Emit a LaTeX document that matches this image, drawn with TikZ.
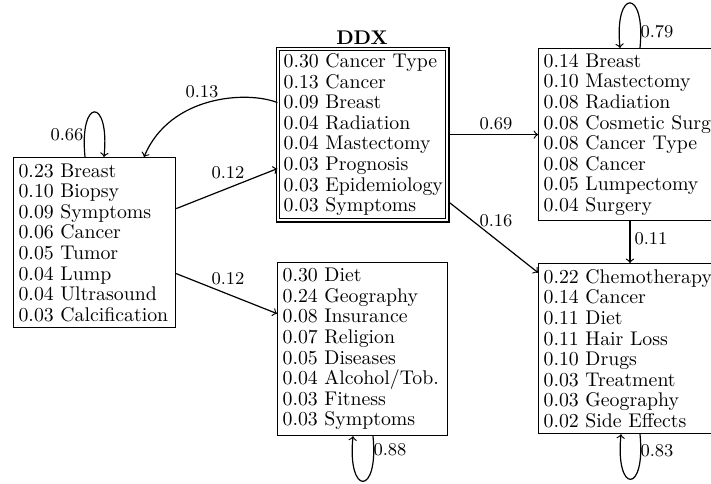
\documentclass[tikz,border=0pt]{standalone}
\usetikzlibrary{calc}
\hyphenpenalty=10000
\exhyphenpenalty=10000
\lefthyphenmin=62
\begin{document}
\begin{tikzpicture}[x=0.5pt,y=-0.5pt, line width=0.6pt, >=to,
  box/.style={draw, rectangle, anchor=north west, align=left, inner xsep=2.5pt, inner ysep=0pt,
    font=\fontsize{9.9}{10.3}\selectfont},
  ddxbox/.style={box, double, double distance=1.2pt, inner xsep=2.8pt},
  lbl/.style={font=\fontsize{9}{10}\selectfont, inner sep=0pt},
  title/.style={font=\fontsize{9.9}{10.3}\selectfont\bfseries, inner sep=0pt},
  conn/.style={->}]
\useasboundingbox (0,0) rectangle (711,483);
\clip (0,0) rectangle (711,483);

\node[box, text width=76pt, minimum height=85pt] (L) at (13,157) {%
0.23~Breast\\0.10~Biopsy\\0.09~Symptoms\\0.06~Cancer\\0.05~Tumor\\0.04~Lump\\0.04~Ultrasound\\0.03~Calcification};
\node[ddxbox, text width=79pt, minimum height=85.6pt] (D) at (277.4,48.4) {%
0.30~Cancer~Type\\0.13~Cancer\\0.09~Breast\\0.04~Radiation\\0.04~Mastectomy\\0.03~Prognosis\\0.03~Epidemiology\\0.03~Symptoms};
\node[title] (T) at (362,37.5) {DDX};
\node[box, text width=100pt, minimum height=86pt] (R) at (538,48) {%
0.14~Breast\\0.10~Mastectomy\\0.08~Radiation\\0.08~Cosmetic~Surgery\\0.08~Cancer~Type\\0.08~Cancer\\0.05~Lumpectomy\\0.04~Surgery};
\node[box, text width=80pt, minimum height=86.5pt] (M) at (277,262) {%
0.30~Diet\\0.24~Geography\\0.08~Insurance\\0.07~Religion\\0.05~Diseases\\0.04~Alcohol/Tob.\\0.03~Fitness\\0.03~Symptoms};
\node[box, text width=100pt, minimum height=85pt] (C) at (538,263) {%
0.22~Chemotherapy\\0.14~Cancer\\0.11~Diet\\0.11~Hair~Loss\\0.10~Drugs\\0.03~Treatment\\0.03~Geography\\0.02~Side~Effects};

% connectors
\draw[conn] ($(D.west)+(0,-32)$) .. controls +(-30,-12) and +(26,-62) .. ($(L.north west)+(131,0)$);
\draw[conn] ($(L.east)+(0,-34)$) -- ($(D.west)+(0,34)$);
\draw[conn] ($(L.east)+(0,31)$) -- ($(M.west)+(0,-35.5)$);
\draw[conn] (D.east) -- (R.west);
\draw[conn] ($(D.south east)+(2,-18)$) -- ($(C.west)+(0,-76)$);
\draw[conn] ($(R.south west)+(92,0)$) -- ($(C.north west)+(92,0)$);

% self loops
\draw[conn] ($(L.north west)+(72,0)$) .. controls +(-6,-60) and +(6,-60) .. ($(L.north west)+(91,0)$);
\draw[conn] ($(R.north west)+(102,0)$) .. controls +(6,-60) and +(-6,-60) .. ($(R.north west)+(82,0)$);
\draw[conn] ($(M.south west)+(96,0)$) .. controls +(6,60) and +(-6,60) .. ($(M.south west)+(76,0)$);
\draw[conn] ($(C.south west)+(102,0)$) .. controls +(6,60) and +(-6,60) .. ($(C.south west)+(83,0)$);

% labels
\node[lbl] (l13) at (202,92) {0.13};
\node[lbl] (l12a) at (228,173) {0.12};
\node[lbl] (l12b) at (228,279) {0.12};
\node[lbl] (l69) at (496,124) {0.69};
\node[lbl] (l16) at (496,221) {0.16};
\node[lbl] (l11) at (651,239) {0.11};
\node[lbl] (l79) at (657,32) {0.79};
\node[lbl] (l66) at (67,135) {0.66};
\node[lbl] (l88) at (390,450) {0.88};
\node[lbl] (l83) at (657,451) {0.83};
\end{tikzpicture}
\end{document}
